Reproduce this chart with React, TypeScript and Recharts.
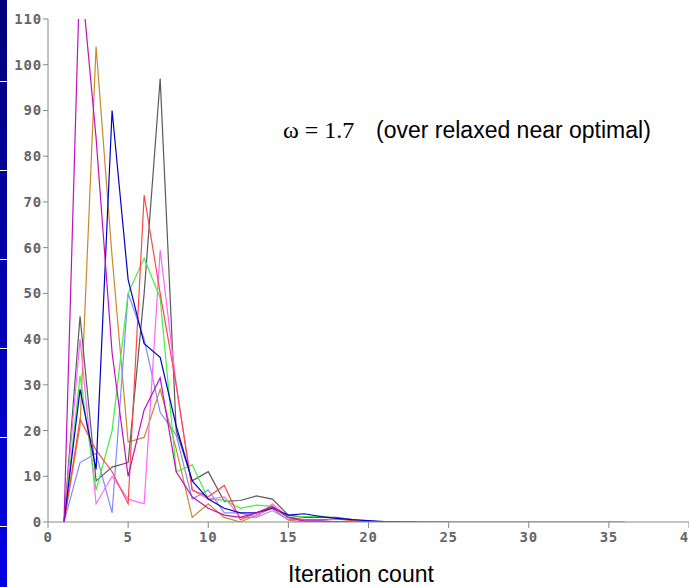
import { LineChart, Line, XAxis, YAxis } from "recharts";

// iteration number on the x axis
const iterations = [
  1, 2, 3, 4, 5, 6, 7, 8, 9, 10, 11, 12, 13, 14, 15, 16, 17, 18, 19, 20,
  21, 22, 23, 24, 25, 26, 27, 28, 29, 30, 31, 32, 33, 34, 35, 36,
];

// residual per run (runs end at different iteration counts)
const gold = [0, 21, 104, 58, 17.5, 18.5, 29, 16, 1, 4, 1, 0, 1.5, 3, 0.4, 0, 0, 0, 0, 0];
const lightBlue = [0, 13, 15, 2, 50, 40, 24, 19, 5, 7, 2, 2, 1, 2.5, 0.5, 0.5, 0.3, 0, 0];
const gray = [0, 45, 9, 12, 13, 50, 97, 20, 9, 11, 4.5, 4.7, 5.7, 5, 1.5, 1, 1, 1, 0.5, 0];
const pink = [0, 40, 4, 10, 5, 4, 59.5, 30, 7, 5, 5.5, 1, 1, 4, 1, 0.3, 0, 0];
const green = [0, 32, 7, 20, 50, 57.7, 49, 11, 12.5, 5, 4.8, 3, 3.7, 3.4, 1, 1.2, 1.3, 0.8, 0.4, 0.2, 0, 0];
const red = [0, 22.5, 15.7, 11, 4, 71.5, 50, 30, 7, 5.5, 8, 0.5, 2, 3.5, 1, 0.5, 0.5, 0.7, 0.3, 0.1, 0, 0, 0, 0, 0];
const blue = [0, 29, 11.5, 90, 53, 39, 36, 21, 9, 5, 3, 2, 2, 3, 1.5, 1.8, 1.2, 0.8, 0.5, 0.3, 0.1, 0, 0];
const magenta = [
  0, 122, 84, 37, 10, 24.5, 31.5, 11, 5.5, 3, 1.5, 1, 2, 3.3, 1, 0.2, 0.2, 0.1, 0, 0,
  0, 0, 0, 0, 0, 0, 0, 0, 0, 0, 0, 0, 0, 0, 0, 0,
];

const yTicks = [0, 10, 20, 30, 40, 50, 60, 70, 80, 90, 100, 110];
const xTicks = [0, 5, 10, 15, 20, 25, 30, 35, 40];

const series = [
  { key: "gold", color: "#c88a28", values: gold },
  { key: "lightBlue", color: "#8888ff", values: lightBlue },
  { key: "gray", color: "#5a5a5a", values: gray },
  { key: "pink", color: "#ff66ff", values: pink },
  { key: "green", color: "#44ee44", values: green },
  { key: "red", color: "#ff4848", values: red },
  { key: "blue", color: "#0000c8", values: blue },
  { key: "magenta", color: "#c010c0", values: magenta },
];

const data = iterations.map((it, i) => {
  const row: Record<string, number | undefined> = { it };
  series.forEach((s) => {
    row[s.key] = s.values[i];
  });
  return row;
});

const tickStyle = {
  fontFamily: "'DejaVu Sans Mono', monospace",
  fontWeight: "bold" as const,
  fontSize: 14,
  letterSpacing: 0.8,
  fill: "#666",
};

const stripLines = [81, 170, 259, 348, 437, 526];

export default function App() {
  return (
    <div style={{ position: "relative", width: 689, height: 587, overflow: "hidden", background: "#fff" }}>
      <style>{`body{margin:0;overflow:hidden;}`}</style>
      <div
        style={{
          position: "absolute",
          left: 0,
          top: 0,
          width: 7,
          height: 587,
          background: "linear-gradient(#00007a, #0000e6)",
        }}
      >
        {stripLines.map((y) => (
          <div key={y} style={{ position: "absolute", left: 0, top: y, width: 7, height: 1, background: "#fff" }} />
        ))}
      </div>
      <LineChart
        width={690}
        height={587}
        data={data}
        margin={{ top: 19, right: 1, left: 0, bottom: 0 }}
      >
        <XAxis
          dataKey="it"
          type="number"
          domain={[0, 40]}
          ticks={xTicks}
          interval={0}
          height={65}
          tickSize={6}
          tickMargin={4}
          stroke="#888"
          tick={tickStyle}
        />
        <YAxis
          type="number"
          domain={[0, 110]}
          ticks={yTicks}
          interval={0}
          allowDataOverflow
          width={48}
          tickSize={5}
          tickMargin={1}
          stroke="#888"
          tick={tickStyle}
        />
        {series.map((s) => (
          <Line
            key={s.key}
            dataKey={s.key}
            stroke={s.color}
            strokeWidth={1.2}
            dot={false}
            activeDot={false}
            isAnimationActive={false}
            type="linear"
          />
        ))}
      </LineChart>
      <svg
        width={689}
        height={587}
        style={{ position: "absolute", left: 0, top: 0, pointerEvents: "none" }}
      >
        <text y={138} fill="#000">
          <tspan x={283} fontSize={24} fontFamily="'Liberation Serif', 'Times New Roman', serif">ω = 1.7</tspan>
          <tspan x={376} fontSize={23} fontFamily="'Liberation Sans', Arial, sans-serif">
            (over relaxed near optimal)
          </tspan>
        </text>
        <text
          x={361}
          y={582}
          fontSize={23}
          textAnchor="middle"
          fill="#000"
          fontFamily="'Liberation Sans', Arial, sans-serif"
        >
          Iteration count
        </text>
      </svg>
    </div>
  );
}
